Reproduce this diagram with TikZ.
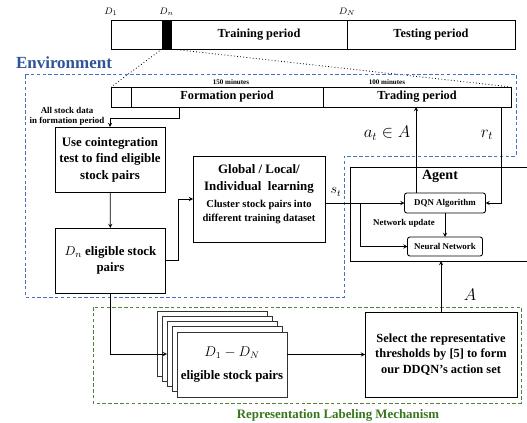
\documentclass[tikz,border=0pt]{standalone}
\usepackage{fontspec}
\setmainfont{Liberation Serif}
\usetikzlibrary{arrows,positioning,calc}
\definecolor{envcolor}{RGB}{68,114,196}
\definecolor{envtext}{RGB}{47,85,151}
\definecolor{rlmcolor}{RGB}{84,130,53}
\definecolor{rlmtext}{RGB}{56,118,29}

\begin{document}
\begin{tikzpicture}[
    x=0.3mm, y=-0.3mm,
    box/.style={rectangle, draw, line width=0.75pt, align=center, inner sep=1pt, outer sep=0pt, font=\bfseries\fontsize{11}{14}\selectfont},
    cell/.style={box, minimum height=8.7mm, font=\bfseries\fontsize{10.5}{12}\selectfont},
    subcell/.style={box, minimum height=6mm, font=\bfseries\fontsize{10.5}{12}\selectfont},
    smallbox/.style={box, rounded corners=2pt, font=\bfseries\fontsize{7.6}{9}\selectfont},
    pagebox/.style={box, fill=white, draw=black!80, minimum width=33mm, minimum height=19.5mm},
    arrow/.style={->, >=stealth, line width=0.6pt},
    note/.style={font=\bfseries\fontsize{7.6}{8.5}\selectfont, align=center},
    tinynote/.style={font=\bfseries\fontsize{6}{7}\selectfont},
    mathlbl/.style={font=\fontsize{14}{15}\selectfont},
    envline/.style={draw=envcolor, line width=0.8pt, dash pattern=on 3pt off 2pt},
    rlmline/.style={draw=rlmcolor, line width=0.8pt, dash pattern=on 3pt off 2pt},
]

\useasboundingbox (0,0) rectangle (527,423);

% Timeline
\node[cell, minimum width=15.3mm, anchor=north west] (c1) at (111,20) {};
\node[cell, minimum width=2.7mm, fill=black, right=0pt of c1] (blk) {};
\node[cell, minimum width=52.8mm, right=0pt of blk] (train) {Training period};
\node[cell, minimum width=50.4mm, right=0pt of train] (test) {Testing period};
\node[font=\fontsize{8}{9}\selectfont, above=0pt of c1.north west] (d1) {$D_1$};
\node[font=\fontsize{8}{9}\selectfont, above=0pt of blk.north] (dn1) {$D_n$};
\node[font=\fontsize{8}{9}\selectfont, above=0pt of train.north east] (dN) {$D_N$};

% Formation / trading
\node[subcell, minimum width=6mm, anchor=north west] (f0) at (111,87) {};
\node[subcell, minimum width=57.6mm, right=0pt of f0] (form) {Formation period};
\node[subcell, minimum width=56.4mm, right=0pt of form] (trade) {Trading period};
\node[tinynote] (m150) at (231,82) {150 minutes};
\node[tinynote] (m100) at (387,82) {100 minutes};
\draw[line width=0.7pt, dash pattern=on 0.7pt off 2pt] (blk.south west) -- (f0.north west);
\draw[line width=0.7pt, dash pattern=on 0.7pt off 2pt] (blk.south east) -- (trade.north east);

% Environment
\node[font=\bfseries\fontsize{14.5}{16}\selectfont, text=envtext] (envlbl) at (64,63) {Environment};
\draw[envline] (25,74) -- (516,74) -- (516,156) -- (344,156) -- (344,297) -- (25,297) -- cycle;

\node[box, minimum width=33mm, minimum height=19.5mm] (coint) at (110,159.5) {Use cointegration\\test to find eligible\\stock pairs};
\node[box, minimum width=33mm, minimum height=19.5mm] (dn) at (110.5,260.5) {$D_n$ eligible stock\\pairs};
\node[box, minimum width=39.6mm, minimum height=25.8mm] (glb) at (259,199) {};
\node[below=1.2mm of glb.north, align=center, font=\bfseries\fontsize{11}{15}\selectfont] (glbtxt) {Global / Local/\\Individual~ learning};
\node[below=-0.6mm of glbtxt, align=center, font=\bfseries\fontsize{9}{12.5}\selectfont] (glbsub) {Cluster stock pairs into\\different training dataset};
\node[note] (alldata) at (67,116.5) {All stock data\\in formation period};

\draw[arrow] ([xshift=14.4mm]form.south west) -- ++(0,11) -| (coint.north);
\draw[arrow] (coint) -- (dn);
\draw[arrow] (dn.east) -- ++(13,0) |- (glb.west);

% Agent
\node[box, minimum width=55.5mm, minimum height=28.2mm] (agent) at (442.5,214) {};
\node[font=\bfseries\fontsize{12}{14}\selectfont] (agentlbl) at (440,176) {Agent};
\node[smallbox, minimum width=24.3mm, minimum height=6mm] (dqn) at (445,203) {DQN Algorithm};
\node[smallbox, minimum width=22.5mm, minimum height=5.7mm] (nn) at (445,246.5) {Neural Network};
\draw[arrow] (dqn) -- (nn);
\node[note] (upd) at (404,223) {Network update};

\draw[arrow] (glb.east |- dqn.west) -- (dqn.west);
\coordinate (split) at (360,203);
\draw[arrow] (split) |- (nn.west);
\node[font=\fontsize{12}{13}\selectfont] (st) at (336,192) {$s_t$};

\draw[arrow] ([xshift=-8.7mm]dqn.north) -- ([xshift=-8.7mm]dqn.north |- trade.south);
\draw[arrow] ([xshift=-3mm]trade.south east) |- (dqn.east);
\node[mathlbl] (atlbl) at (387,133) {$a_t \in A$};
\node[mathlbl] (rtlbl) at (487,135) {$r_t$};

% Representation labeling
\draw[rlmline] (93,307) rectangle (521,403);
\node[font=\bfseries\fontsize{11}{12}\selectfont, text=rlmtext] (rlmlbl) at (338,415) {Representation Labeling Mechanism};

\foreach \i in {4,3,2,1}
  \node[pagebox] (pg\i) at (232-5*\i, 364.5-5.25*\i) {};
\node[pagebox] (front) at (232,364.5) {\fontsize{12}{14}\selectfont$D_1 - D_N$\\[5pt]eligible stock pairs};
\node[box, minimum width=45.6mm, minimum height=25.5mm, font=\bfseries\fontsize{10.6}{13}\selectfont] (sel) at (441,354.5) {Select the representative\\thresholds by [5] to form\\our DDQN's action set};

\draw[arrow] (dn.south) |- (pg2.west);
\draw[arrow] (front.east |- sel.west) -- (sel.west);
\draw[arrow] (sel.north) -- (sel.north |- agent.south);
\node[mathlbl] (albl) at (470,295) {$A$};

\end{tikzpicture}
\end{document}
